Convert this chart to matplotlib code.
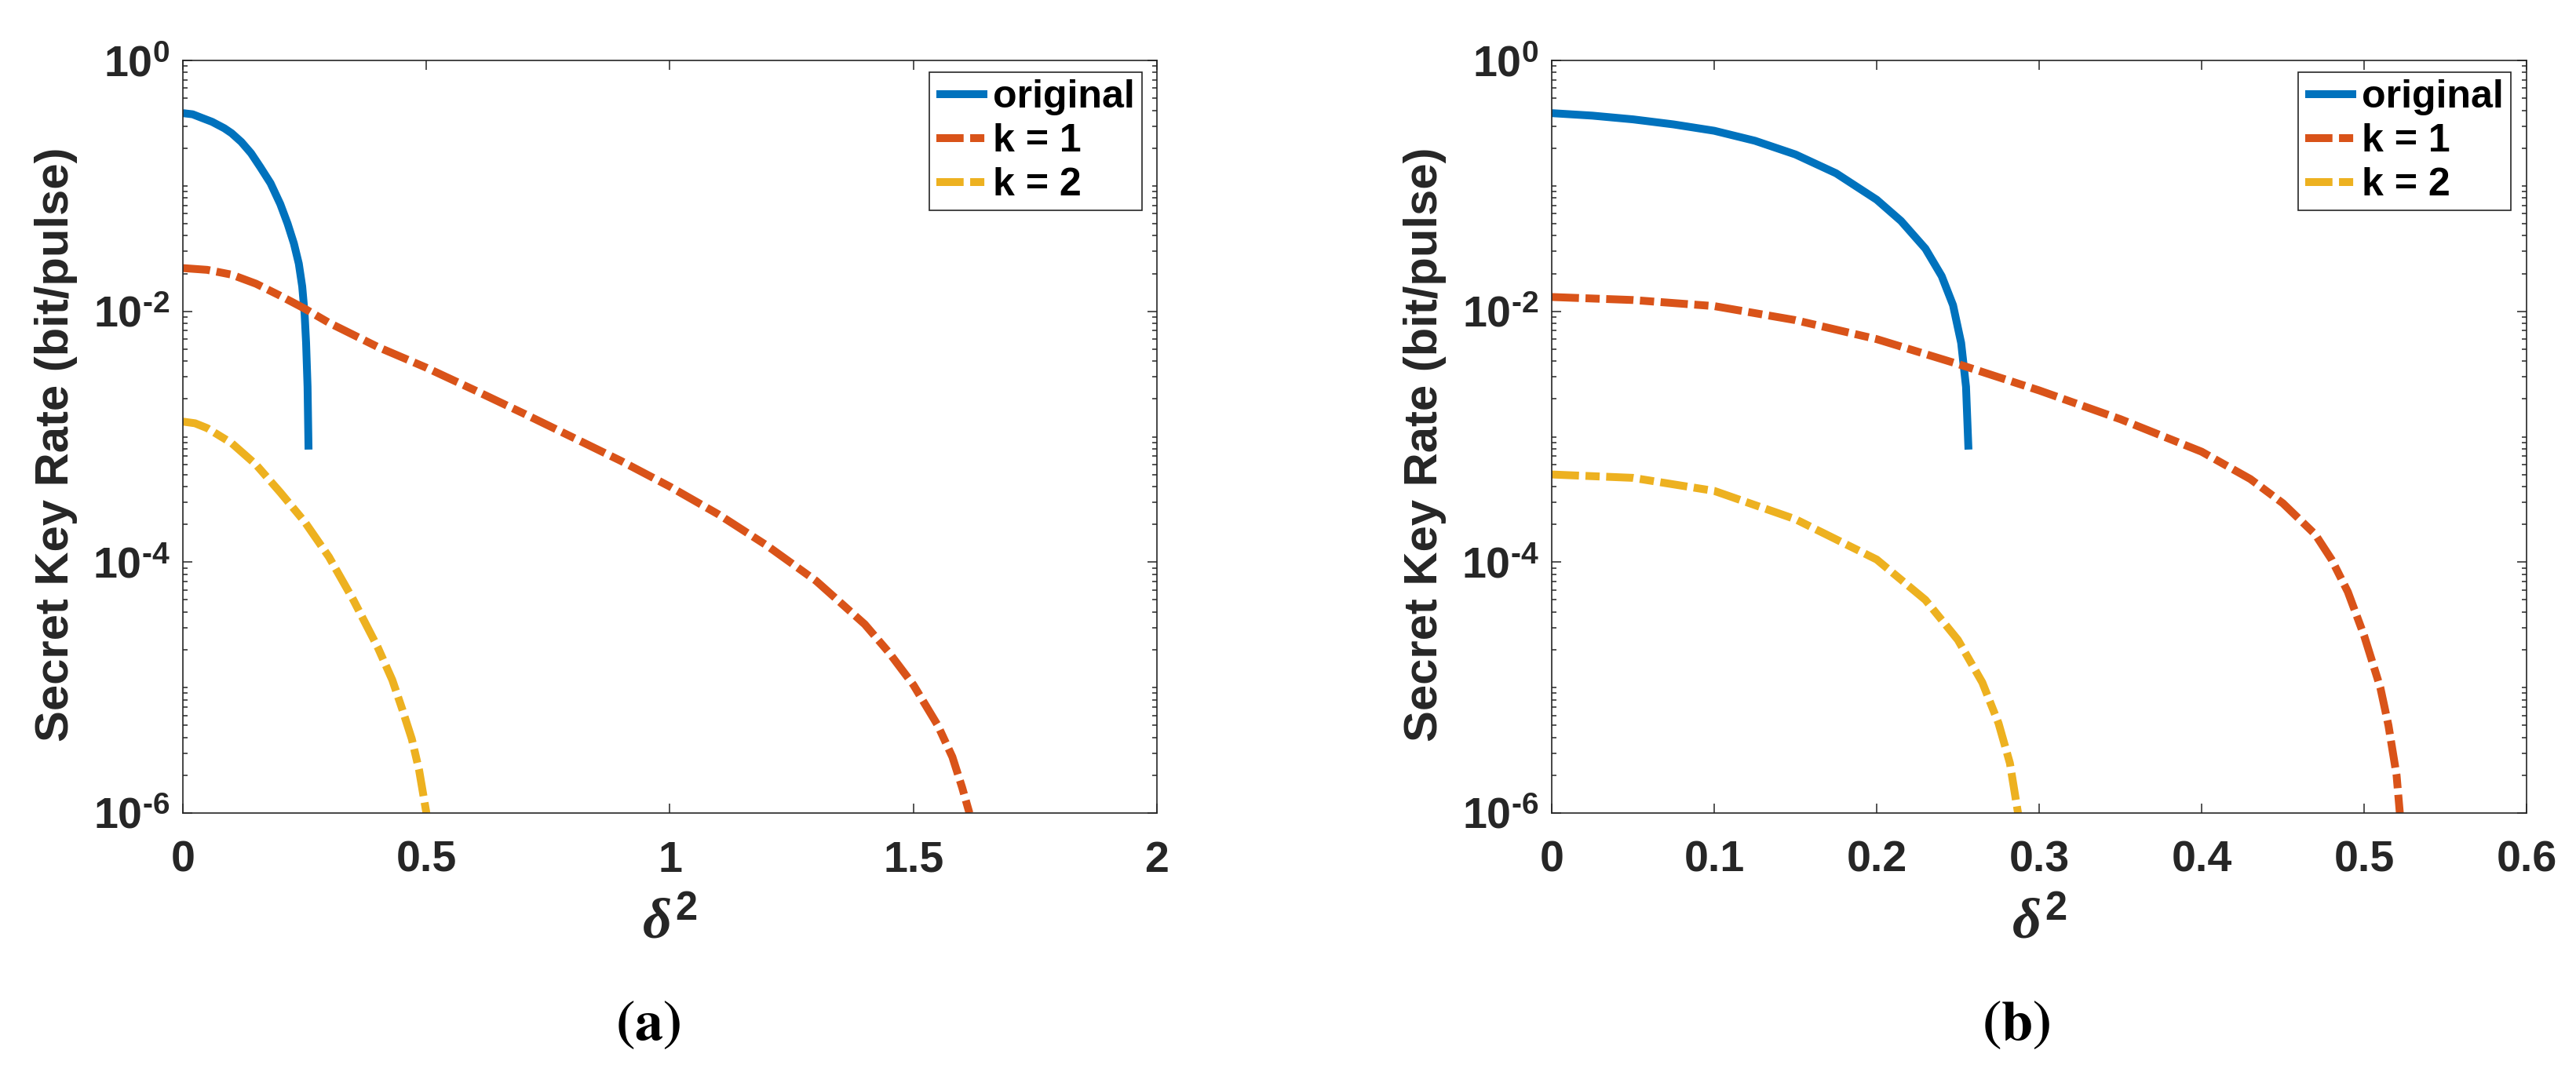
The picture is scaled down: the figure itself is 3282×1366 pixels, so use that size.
import matplotlib
matplotlib.use('Agg')
import matplotlib.pyplot as plt
from matplotlib.ticker import FixedLocator, FuncFormatter, NullFormatter

plt.rcParams['font.family'] = ['Liberation Sans', 'DejaVu Sans']
plt.rcParams['font.weight'] = 'bold'
plt.rcParams['mathtext.fontset'] = 'custom'
plt.rcParams['mathtext.rm'] = 'Liberation Sans:bold'
plt.rcParams['mathtext.it'] = 'Liberation Serif:italic'
plt.rcParams['mathtext.bf'] = 'Liberation Sans:bold'
plt.rcParams['lines.scale_dashes'] = False

# ---------------- data ----------------
series_labels = ['original', 'k = 1', 'k = 2']
colors = ['#0072BD', '#D95319', '#EDB120']

# panel (a)
a_orig_x = [0, 0.02, 0.04, 0.06, 0.085, 0.1, 0.12, 0.14, 0.159, 0.18, 0.2, 0.215, 0.228, 0.238,
            0.245, 0.25, 0.253, 0.256, 0.258]
a_orig_y = [0.38, 0.372, 0.347, 0.324, 0.288, 0.263, 0.224, 0.182, 0.141, 0.105, 0.0716, 0.050,
            0.0347, 0.024, 0.0158, 0.0095, 0.0056, 0.0025, 0.00079]
a_k1_x = [0, 0.05, 0.1, 0.15, 0.2, 0.25, 0.3, 0.4, 0.5, 0.6, 0.7, 0.8, 0.9, 1.0, 1.1, 1.2, 1.3,
          1.4, 1.45, 1.5, 1.55, 1.58, 1.6, 1.615]
a_k1_y = [0.0221, 0.0214, 0.0196, 0.0166, 0.0133, 0.0105, 0.0081, 0.0052, 0.00355, 0.00234,
          0.00153, 9.9e-4, 6.4e-4, 4.0e-4, 2.4e-4, 1.35e-4, 7.1e-5, 3.2e-5, 1.9e-5, 1.05e-5,
          5.0e-6, 2.8e-6, 1.6e-6, 1.0e-6]
a_k2_x = [0, 0.025, 0.05, 0.1, 0.15, 0.2, 0.25, 0.3, 0.35, 0.4, 0.43, 0.45, 0.47, 0.485, 0.5]
a_k2_y = [1.32e-3, 1.28e-3, 1.17e-3, 8.9e-4, 6.0e-4, 3.6e-4, 2.1e-4, 1.1e-4, 5.0e-5, 2.1e-5,
          1.15e-5, 6.8e-6, 3.9e-6, 2.2e-6, 1.0e-6]

# panel (b)
b_orig_x = [0, 0.025, 0.05, 0.075, 0.1, 0.125, 0.15, 0.175, 0.2, 0.215, 0.23, 0.24, 0.247,
            0.252, 0.255, 0.2565]
b_orig_y = [0.38, 0.363, 0.339, 0.309, 0.275, 0.229, 0.178, 0.126, 0.0776, 0.0525, 0.0316,
            0.0191, 0.0112, 0.0056, 0.0025, 0.00079]
b_k1_x = [0, 0.05, 0.1, 0.15, 0.2, 0.25, 0.3, 0.35, 0.4, 0.43, 0.45, 0.47, 0.48, 0.49, 0.5,
          0.51, 0.515, 0.52, 0.522]
b_k1_y = [0.0130, 0.0123, 0.0110, 0.0085, 0.0060, 0.0038, 0.00234, 0.00138, 7.6e-4, 4.6e-4,
          2.95e-4, 1.66e-4, 1.05e-4, 5.8e-5, 2.6e-5, 1.0e-5, 5.0e-6, 2.0e-6, 1.0e-6]
b_k2_x = [0, 0.05, 0.1, 0.15, 0.2, 0.23, 0.25, 0.265, 0.275, 0.282, 0.287]
b_k2_y = [5.0e-4, 4.7e-4, 3.7e-4, 2.2e-4, 1.05e-4, 5.0e-5, 2.4e-5, 1.1e-5, 5.2e-6, 2.5e-6, 1.0e-6]

a_xticks = [0, 0.5, 1, 1.5, 2]
a_xticklabels = ['0', '0.5', '1', '1.5', '2']
b_xticks = [0, 0.1, 0.2, 0.3, 0.4, 0.5, 0.6]
b_xticklabels = ['0', '0.1', '0.2', '0.3', '0.4', '0.5', '0.6']
yticks = [1e-6, 1e-4, 1e-2, 1e0]
ylabel = 'Secret Key Rate (bit/pulse)'
xlabel = r'$\delta^2$'
panel_labels = [r'$(\mathbf{a})$', r'$(\mathbf{b})$']

# ---------------- figure ----------------
W, H = 3282, 1366
fig = plt.figure(figsize=(W / 100, H / 100), dpi=100)
axc = '#262626'
dash_pat = (25, 6, 13, 6)


def ylab(v, pos):
    import math
    e = int(round(math.log10(v)))
    if e < 0:
        return r'$10^{\text{-}%d}$' % (-e)
    return r'$10^{%d}$' % e


minor = []
for e in range(-6, 0):
    for j in range(1, 10):
        v = j * 10.0 ** e
        if j == 1 and e % 2 == 0:
            continue
        minor.append(v)

panels = [
    (233, 1474, [(a_orig_x, a_orig_y), (a_k1_x, a_k1_y), (a_k2_x, a_k2_y)], (0, 2), a_xticks, a_xticklabels, 1455, 825),
    (1977, 3219, [(b_orig_x, b_orig_y), (b_k1_x, b_k1_y), (b_k2_x, b_k2_y)], (0, 0.6), b_xticks, b_xticklabels, 3199, 2568),
]
top, bot = 77, 1036
for pi, (x0, x1, data, xlim, xt, xtl, legR, labx) in enumerate(panels):
    ax = fig.add_axes([x0 / W, 1 - bot / H, (x1 - x0) / W, (bot - top) / H])
    for i, (xs, ys) in enumerate(data):
        if i == 0:
            ax.plot(xs, ys, color=colors[i], lw=7.2, label=series_labels[i], solid_capstyle='butt',
                    solid_joinstyle='round')
        else:
            ax.plot(xs, ys, color=colors[i], lw=7.2, label=series_labels[i],
                    dashes=dash_pat, dash_capstyle='butt')
    ax.set_yscale('log')
    ax.set_ylim(1e-6, 1)
    ax.set_xlim(*xlim)
    ax.xaxis.set_major_locator(FixedLocator(xt))
    ax.set_xticklabels(xtl)
    ax.yaxis.set_major_locator(FixedLocator(yticks))
    ax.yaxis.set_major_formatter(FuncFormatter(ylab))
    ax.yaxis.set_minor_locator(FixedLocator(minor))
    ax.yaxis.set_minor_formatter(NullFormatter())
    ax.tick_params(which='both', direction='in', top=True, right=True, color=axc,
                   labelcolor=axc, width=1.1)
    ax.tick_params(which='major', length=8.6)
    ax.tick_params(which='minor', length=4.3)
    ax.tick_params(axis='x', which='major', pad=25, labelsize=40)
    ax.tick_params(axis='y', which='major', pad=12, labelsize=40)
    for s in ax.spines.values():
        s.set_color(axc)
        s.set_linewidth(1.2)
    ax.set_ylabel(ylabel, fontsize=43, color=axc, fontweight='bold')
    ax.yaxis.set_label_coords(-0.108, 0.49)
    ax.set_xlabel(xlabel, fontsize=52, color=axc)
    ax.xaxis.set_label_coords(0.5, -0.112)
    leg = ax.legend(loc='upper right', bbox_to_anchor=(legR / W, 1 - 92 / H),
                    bbox_transform=fig.transFigure, borderaxespad=0,
                    fontsize=36, handlelength=1.3, handletextpad=0.14,
                    borderpad=0.18, labelspacing=0.2, fancybox=False,
                    framealpha=1, edgecolor=axc)
    leg.get_frame().set_linewidth(1.2)
    for t in leg.get_texts():
        t.set_fontweight('bold')
        t.set_color('black')
    fig.text(labx / W, 1 - 1306 / H, panel_labels[pi],
             fontsize=52, ha='center', va='center', math_fontfamily='stix', color='black')

fig.savefig('out.png', dpi=100)
